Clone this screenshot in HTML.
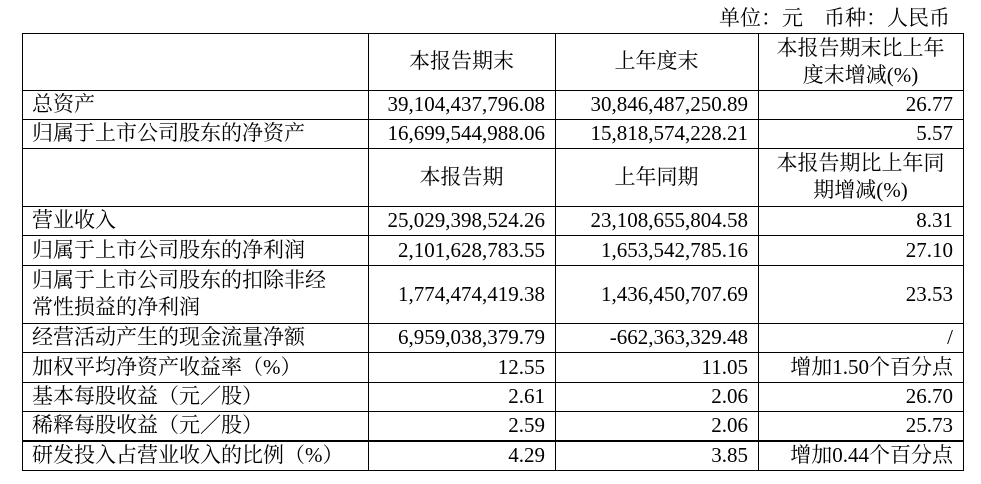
<!DOCTYPE html><html><head><meta charset="utf-8"><style>
body{margin:0;width:981px;height:484px;background:#fff;position:relative;font-family:"Liberation Serif","Noto Serif CJK SC",serif;font-size:21px;color:#000;overflow:hidden}
.h{position:absolute;left:22px;width:942px;height:1px;background:#000}
.v{position:absolute;top:33px;height:438px;width:1px;background:#000}
.c{position:absolute;display:flex;align-items:center;line-height:27px;white-space:nowrap}
.l{justify-content:flex-start;padding-left:10px}
.r{justify-content:flex-end;padding-right:10px}
.m{justify-content:center;text-align:center}
</style></head><body>
<div style="position:absolute;right:31px;top:2px;font-size:21px">单位：元　币种：人民币</div>
<div class="h" style="top:33px"></div><div class="h" style="top:90px"></div><div class="h" style="top:119px"></div><div class="h" style="top:148px"></div><div class="h" style="top:206px"></div><div class="h" style="top:235px"></div><div class="h" style="top:265px"></div><div class="h" style="top:323px"></div><div class="h" style="top:352px"></div><div class="h" style="top:382px"></div><div class="h" style="top:411px"></div><div class="h" style="top:440px;height:2px"></div><div class="h" style="top:470px"></div>
<div class="v" style="left:22px"></div><div class="v" style="left:368px"></div><div class="v" style="left:555px"></div><div class="v" style="left:758px"></div><div class="v" style="left:963px"></div>
<div id="t"></div>
<script>
var rows=[[33,90,"","本报告期末","上年度末","本报告期末比上年<br>度末增减(%)",1],
[90,119,"总资产","39,104,437,796.08","30,846,487,250.89","26.77"],
[119,148,"归属于上市公司股东的净资产","16,699,544,988.06","15,818,574,228.21","5.57"],
[148,206,"","本报告期","上年同期","本报告期比上年同<br>期增减(%)",1],
[206,235,"营业收入","25,029,398,524.26","23,108,655,804.58","8.31"],
[235,265,"归属于上市公司股东的净利润","2,101,628,783.55","1,653,542,785.16","27.10"],
[265,323,"归属于上市公司股东的扣除非经<br>常性损益的净利润","1,774,474,419.38","1,436,450,707.69","23.53"],
[323,352,"经营活动产生的现金流量净额","6,959,038,379.79","-662,363,329.48","/"],
[352,382,"加权平均净资产收益率（%）","12.55","11.05","增加1.50个百分点"],
[382,411,"基本每股收益（元／股）","2.61","2.06","26.70"],
[411,440,"稀释每股收益（元／股）","2.59","2.06","25.73"],
[441,470,"研发投入占营业收入的比例（%）","4.29","3.85","增加0.44个百分点"]];
var xs=[22,368,555,758,963],h="";
rows.forEach(function(r){for(var i=0;i<4;i++){var cls=i==0?"l":(r[6]?"m":"r");
h+='<div class="c '+cls+'" style="left:'+xs[i]+'px;width:'+(xs[i+1]-xs[i]-(cls=="m"?0:10))+'px;top:'+r[0]+'px;height:'+(r[1]-r[0])+'px">'+r[2+i]+'</div>';}});
document.getElementById("t").innerHTML=h;
</script>
</body></html>
